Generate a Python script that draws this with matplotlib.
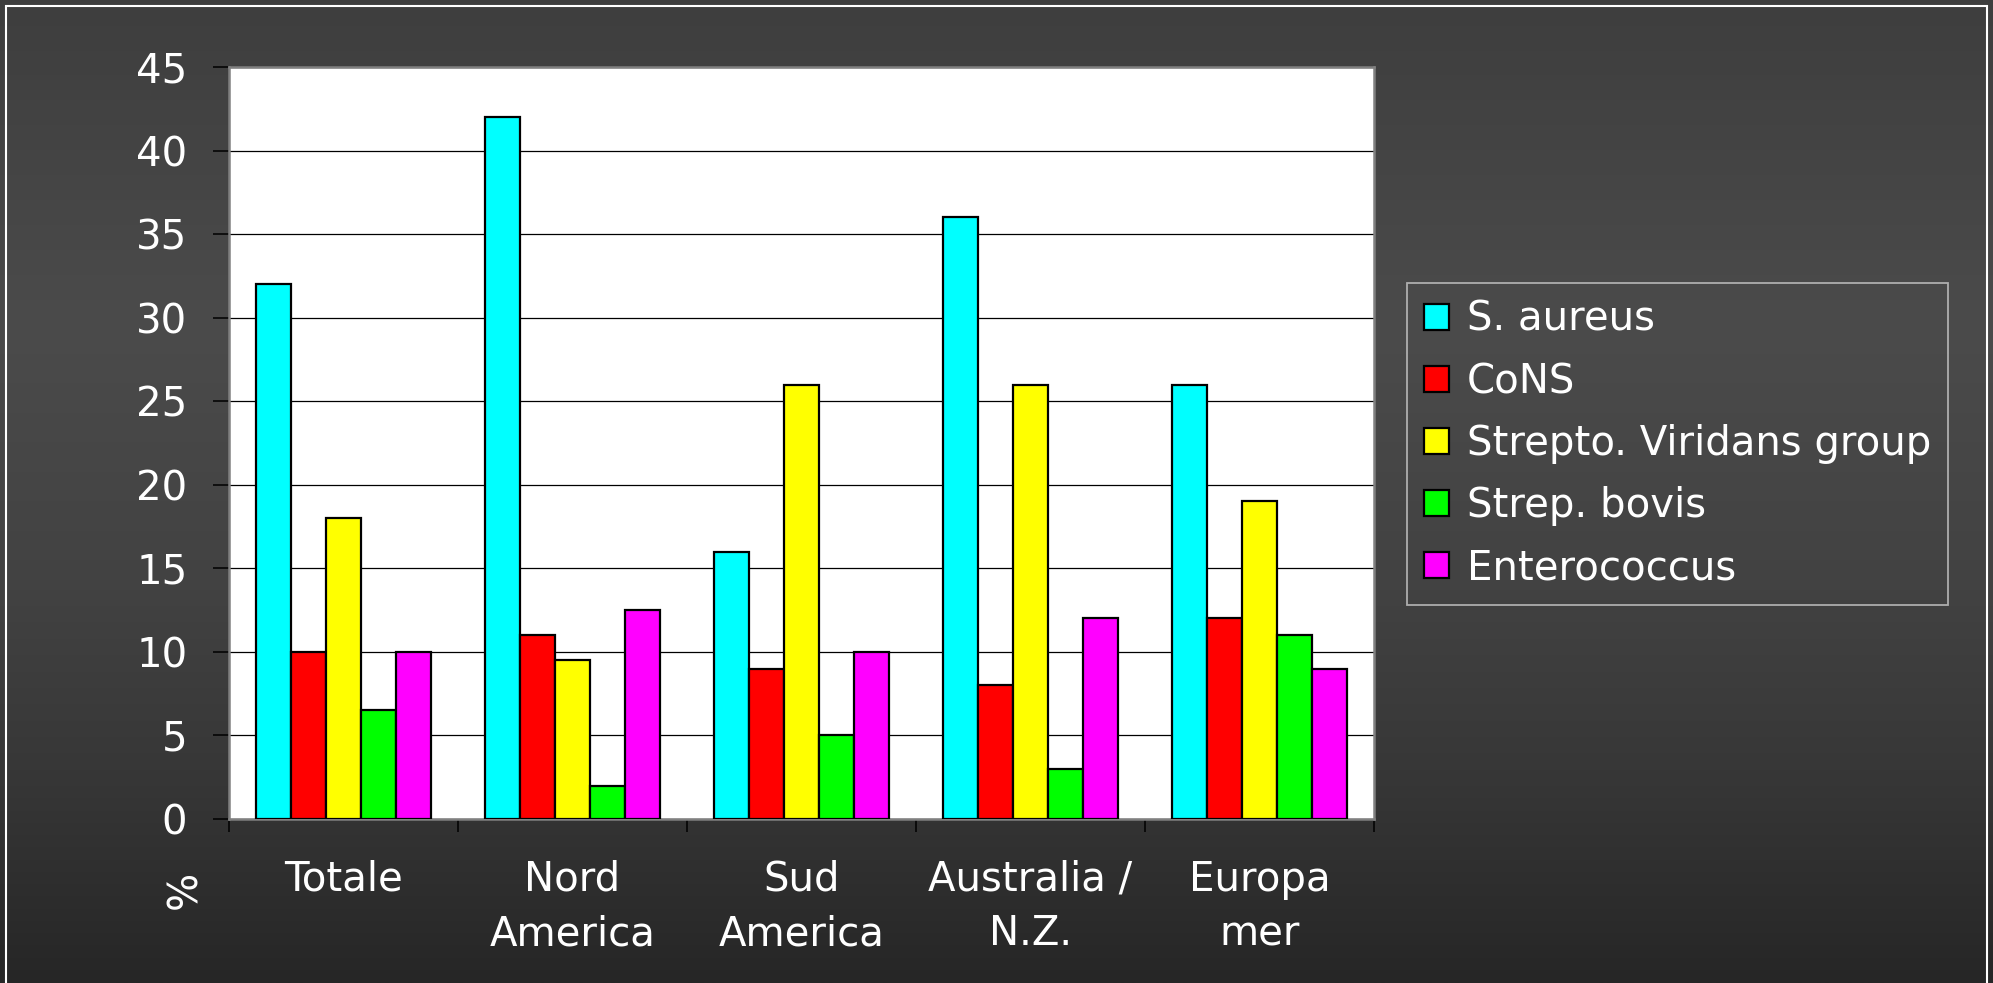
import numpy as np
import matplotlib.pyplot as plt
from matplotlib.patches import Rectangle

# share of cases by organism (%) in each region
regions = ['Totale', 'Nord\nAmerica', 'Sud\nAmerica', 'Australia /\nN.Z.', 'Europa\nmer']
organisms = ['S. aureus', 'CoNS', 'Strepto. Viridans group', 'Strep. bovis', 'Enterococcus']
s_aureus = [32, 42, 16, 36, 26]
cons = [10, 11, 9, 8, 12]
viridans = [18, 9.5, 26, 26, 19]
bovis = [6.5, 2, 5, 3, 11]
enterococcus = [10, 12.5, 10, 12, 9]
yticks = [0, 5, 10, 15, 20, 25, 30, 35, 40, 45]

colors = ['#00ffff', '#ff0000', '#ffff00', '#00ff00', '#ff00ff']
FS = 29

plt.rcParams['font.family'] = ['DejaVu Sans']

W, H = 1993, 983
fig = plt.figure(figsize=(W / 100, H / 100), dpi=100)

# dark slide background with a soft vertical gradient
bg = fig.add_axes([0, 0, 1, 1], zorder=0)
t = np.linspace(0, 1, 600)
shade = np.interp(t, [0, 0.33, 0.6, 0.8, 1], [0x3e, 0x4b, 0x42, 0x36, 0x26]) / 255
img = np.dstack([np.repeat(shade[:, None], 2, axis=1)] * 3)
bg.imshow(img, aspect='auto', extent=[0, 1, 0, 1], origin='upper')
bg.add_patch(Rectangle((6 / W, -0.01), (1987 - 6) / W, 1.01 - 6 / H,
                       fill=False, edgecolor='white', linewidth=1.5))
bg.set_xlim(0, 1)
bg.set_ylim(0, 1)
bg.axis('off')

ax = fig.add_axes([229 / W, (H - 819) / H, (1374 - 229) / W, (819 - 67) / H], zorder=1)
ax.set_facecolor('white')

series = [s_aureus, cons, viridans, bovis, enterococcus]
x = np.arange(len(regions))
w = 0.152
for j, (vals, name) in enumerate(zip(series, organisms)):
    ax.bar(x + (j - 2) * w, vals, width=w, color=colors[j], edgecolor='black',
           linewidth=1.6, label=name, zorder=3)

ax.set_xlim(-0.5, len(regions) - 0.5)
ax.set_ylim(0, 45)
ax.set_yticks(yticks)
ax.set_yticklabels([str(v) for v in yticks])
ax.yaxis.grid(True, color='black', linewidth=0.9, zorder=1)
ax.set_axisbelow(True)

# group separators as major ticks, region names on minor ticks
ax.set_xticks(np.arange(len(regions) + 1) - 0.5)
ax.set_xticklabels([])
ax.set_xticks(x, minor=True)
ax.set_xticklabels(regions, minor=True)
ax.tick_params(axis='x', which='major', length=9.5, width=1.1, color='black', direction='out')
ax.tick_params(axis='x', which='minor', length=0, pad=29.5, labelsize=FS, labelcolor='white')
ax.tick_params(axis='y', length=11.5, width=1.1, color='black', direction='out',
               pad=18.5, labelsize=FS, labelcolor='white')
for lbl in ax.get_xticklabels(minor=True):
    lbl.set_linespacing(1.46)

for side in ['top', 'right', 'left', 'bottom']:
    ax.spines[side].set_color('#808080')
    ax.spines[side].set_linewidth(1.8)

fig.text(185 / W, 1 - 890 / H, '%', rotation=90, ha='center', va='center',
         color='white', fontsize=FS)

leg = ax.legend(loc='upper left', bbox_to_anchor=(1407 / W, 1 - 283 / H),
                bbox_transform=fig.transFigure, fontsize=FS, frameon=True,
                fancybox=False, facecolor='none', edgecolor='#c8c8c8',
                handlelength=0.62, handleheight=0.62, handletextpad=0.45,
                labelspacing=0.55, borderpad=0.42, borderaxespad=0)
leg.get_frame().set_linewidth(1.3)
for txt in leg.get_texts():
    txt.set_color('white')

fig.savefig('out.png', dpi=100)
